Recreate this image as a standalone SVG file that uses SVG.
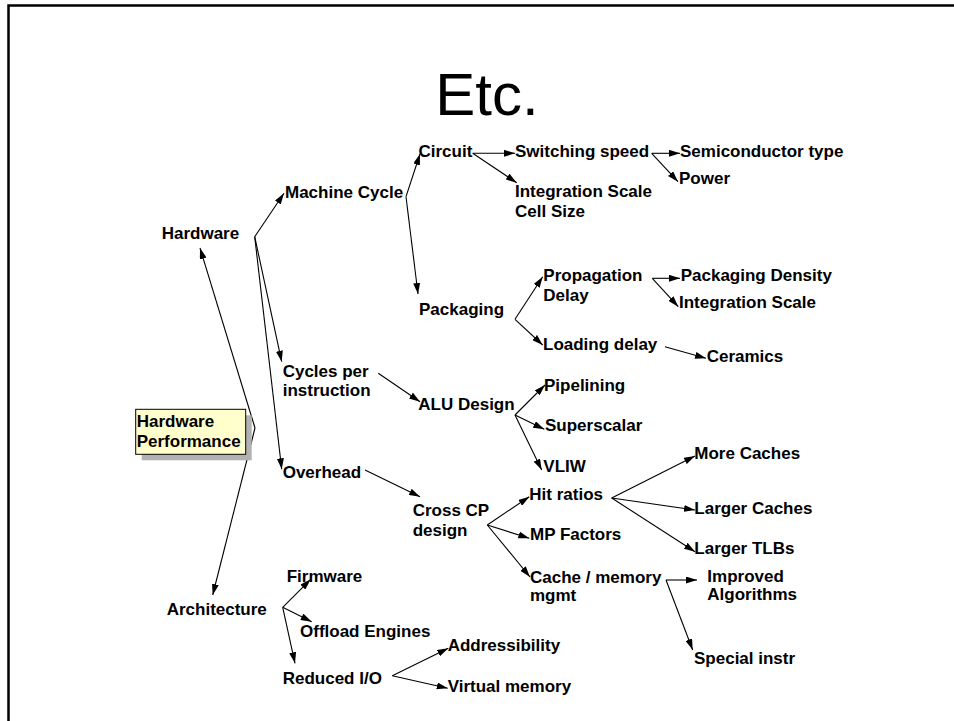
<svg xmlns="http://www.w3.org/2000/svg" width="954" height="721" viewBox="0 0 954 721">
  <style>
    .t { font-family: "Liberation Sans", Arial, sans-serif; font-size: 17px; font-weight: bold; fill: #000; }
    .title { font-family: "Liberation Sans", Arial, sans-serif; font-size: 60px; fill: #000; }
    .c { stroke: #000; stroke-width: 1.1; fill: none; marker-end: url(#ah); }
  </style>
  <defs>
    <marker id="ah" viewBox="0 0 11 7" refX="11" refY="3.5" markerWidth="11" markerHeight="7" markerUnits="userSpaceOnUse" orient="auto">
      <path d="M0,0 L11,3.5 L0,7 z" fill="#000"/>
    </marker>
  </defs>
  <rect width="954" height="721" fill="#fff"/>
  <!-- slide frame -->
  <path d="M8.5,721 V5.5 H954" fill="none" stroke="#000" stroke-width="2.5"/>
  <text class="title" x="487" y="115" text-anchor="middle">Etc.</text>

  <g id="connectors">
    <path class="c" d="M255,428 L200,248"/>
    <path class="c" d="M255,428 L212.7,595"/>
    <path class="c" d="M254.7,236.7 L284,193.3"/>
    <path class="c" d="M254.7,236.7 L281.7,361.7"/>
    <path class="c" d="M254.7,236.7 L281.7,469.3"/>
    <path class="c" d="M406,196.7 L420,154"/>
    <path class="c" d="M406,196.7 L418,294"/>
    <path class="c" d="M472.7,153.3 L515,153.3"/>
    <path class="c" d="M472.7,153.3 L516.7,182.7"/>
    <path class="c" d="M651.7,153.3 L680,153.3"/>
    <path class="c" d="M651.7,153.3 L678,181.7"/>
    <path class="c" d="M515,319.3 L542.7,276.7"/>
    <path class="c" d="M515,319.3 L542.7,345"/>
    <path class="c" d="M652.3,278.3 L680,278.3"/>
    <path class="c" d="M652.3,278.3 L678.3,306.7"/>
    <path class="c" d="M665,346.7 L706,358.3"/>
    <path class="c" d="M378.3,373.3 L420,401.7"/>
    <path class="c" d="M515,415 L545,385"/>
    <path class="c" d="M515,415 L544.3,429.3"/>
    <path class="c" d="M515,415 L541.7,470"/>
    <path class="c" d="M365,470 L420,496.7"/>
    <path class="c" d="M487.3,525 L529.3,496.7"/>
    <path class="c" d="M487.3,525 L529.3,538.3"/>
    <path class="c" d="M487.3,525 L530,577"/>
    <path class="c" d="M611.7,498 L695,456"/>
    <path class="c" d="M611.7,498 L695,510"/>
    <path class="c" d="M611.7,498 L695,551.7"/>
    <path class="c" d="M666,580 L697,580"/>
    <path class="c" d="M666,580 L692.7,650"/>
    <path class="c" d="M282.7,607.3 L310.7,579.3"/>
    <path class="c" d="M282.7,607.3 L311.7,621.7"/>
    <path class="c" d="M282.7,607.3 L295,663.3"/>
    <path class="c" d="M392.3,675.7 L448.3,648.3"/>
    <path class="c" d="M392.3,675.7 L447.7,688.3"/>
  </g>

  <g id="hardware-performance">
    <rect x="141.7" y="415.3" width="110" height="45" fill="#b2b2b2"/>
    <rect x="135.7" y="409.3" width="110" height="45" fill="#ffffcc" stroke="#000" stroke-width="1"/>
    <text class="t" x="136.7" y="427">Hardware</text>
    <text class="t" x="136.7" y="447">Performance</text>
  </g>
  <g id="hardware"><text class="t" x="161.7" y="239">Hardware</text></g>
  <g id="machine-cycle"><text class="t" x="285" y="198">Machine Cycle</text></g>
  <g id="circuit"><text class="t" x="418.5" y="157">Circuit</text></g>
  <g id="switching-speed"><text class="t" x="515" y="157">Switching speed</text></g>
  <g id="semiconductor-type"><text class="t" x="680" y="157">Semiconductor type</text></g>
  <g id="power"><text class="t" x="679" y="183.5">Power</text></g>
  <g id="integration-scale-cell"><text class="t" x="515" y="197">Integration Scale</text><text class="t" x="515" y="217">Cell Size</text></g>
  <g id="packaging"><text class="t" x="419" y="315">Packaging</text></g>
  <g id="propagation-delay"><text class="t" x="543.3" y="281">Propagation</text><text class="t" x="543.3" y="301">Delay</text></g>
  <g id="packaging-density"><text class="t" x="680.7" y="281">Packaging Density</text></g>
  <g id="integration-scale"><text class="t" x="679" y="307.5">Integration Scale</text></g>
  <g id="loading-delay"><text class="t" x="543" y="349.5">Loading delay</text></g>
  <g id="ceramics"><text class="t" x="706.7" y="362">Ceramics</text></g>
  <g id="cycles-per-instruction"><text class="t" x="282.7" y="377">Cycles per</text><text class="t" x="282.7" y="396">instruction</text></g>
  <g id="alu-design"><text class="t" x="418.3" y="410">ALU Design</text></g>
  <g id="pipelining"><text class="t" x="544" y="391">Pipelining</text></g>
  <g id="superscalar"><text class="t" x="545" y="431">Superscalar</text></g>
  <g id="vliw"><text class="t" x="543.3" y="472">VLIW</text></g>
  <g id="overhead"><text class="t" x="282.7" y="478">Overhead</text></g>
  <g id="cross-cp-design"><text class="t" x="412.7" y="516">Cross CP</text><text class="t" x="412.7" y="536">design</text></g>
  <g id="hit-ratios"><text class="t" x="529.3" y="500">Hit ratios</text></g>
  <g id="more-caches"><text class="t" x="694.3" y="458.5">More Caches</text></g>
  <g id="larger-caches"><text class="t" x="694.3" y="513.5">Larger Caches</text></g>
  <g id="larger-tlbs"><text class="t" x="694.3" y="554">Larger TLBs</text></g>
  <g id="mp-factors"><text class="t" x="530" y="540">MP Factors</text></g>
  <g id="cache-memory-mgmt"><text class="t" x="530" y="582.7">Cache / memory</text><text class="t" x="530" y="601">mgmt</text></g>
  <g id="improved-algorithms"><text class="t" x="707.3" y="582">Improved</text><text class="t" x="707.3" y="600">Algorithms</text></g>
  <g id="special-instr"><text class="t" x="694" y="663.5">Special instr</text></g>
  <g id="architecture"><text class="t" x="166.7" y="615">Architecture</text></g>
  <g id="firmware"><text class="t" x="286.7" y="582">Firmware</text></g>
  <g id="offload-engines"><text class="t" x="300" y="637">Offload Engines</text></g>
  <g id="reduced-io"><text class="t" x="282.7" y="684">Reduced I/O</text></g>
  <g id="addressibility"><text class="t" x="447.7" y="651">Addressibility</text></g>
  <g id="virtual-memory"><text class="t" x="447.7" y="692">Virtual memory</text></g>
</svg>
